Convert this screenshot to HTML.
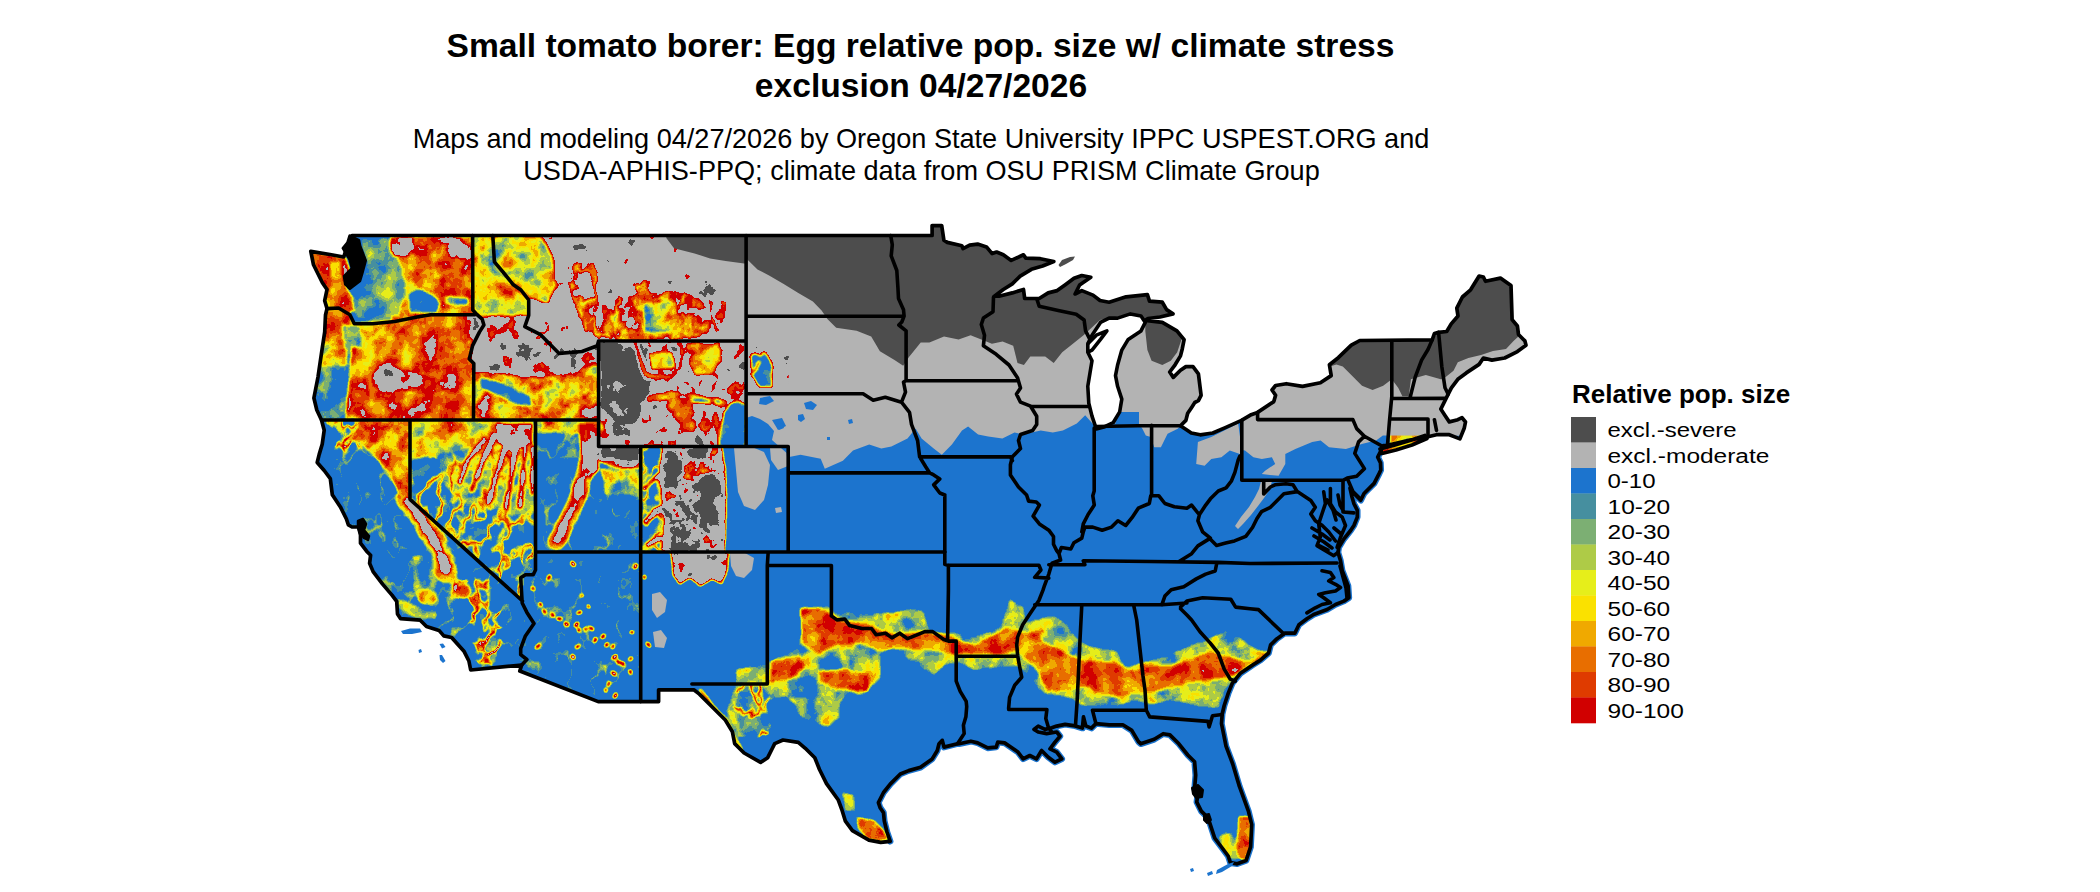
<!DOCTYPE html>
<html><head><meta charset="utf-8"><style>
html,body{margin:0;padding:0;background:#fff;}
body{width:2100px;height:892px;overflow:hidden;position:relative;font-family:"Liberation Sans",sans-serif;}
svg{position:absolute;left:0;top:0;}
.t1{font-weight:bold;font-size:33.6px;}
.t2{font-size:27.1px;}
.lh{font-weight:bold;font-size:26px;}
.lt{font-size:19.5px;}
</style></head><body>
<svg width="2100" height="892" viewBox="0 0 2100 892">
<text x="920.5" y="56.5" text-anchor="middle" class="t1">Small tomato borer: Egg relative pop. size w/ climate stress</text>
<text x="921" y="96.9" text-anchor="middle" class="t1">exclusion 04/27/2026</text>
<text x="921" y="147.5" text-anchor="middle" class="t2">Maps and modeling 04/27/2026 by Oregon State University IPPC USPEST.ORG and</text>
<text x="921.5" y="180" text-anchor="middle" class="t2">USDA-APHIS-PPQ; climate data from OSU PRISM Climate Group</text>
<defs><clipPath id="land"><path d="M310.8,251.4 L330.0,254.5 L343.7,257.0 L347.0,247.0 L350.0,240.0 L352.1,235.5 L932.1,235.5 L932.1,225.6 L941.7,225.6 L943.9,240.2 L947.3,242.4 L961.9,245.8 L963.0,248.6 L969.7,245.2 L977.6,244.1 L986.5,246.9 L992.1,253.6 L996.6,252.0 L1003.3,254.8 L1011.2,260.4 L1023.5,254.8 L1025.8,258.1 L1040.4,258.7 L1053.8,261.5 L1042.6,266.0 L1031.4,269.3 L1020.2,276.1 L1012.3,283.9 L1003.3,289.5 L994.4,296.2 L998.9,296.2 L1012.3,292.9 L1023.5,289.5 L1024.7,298.5 L1033.6,298.5 L1039.2,298.5 L1048.2,292.9 L1057.2,290.6 L1065.0,285.0 L1074.0,278.3 L1081.8,275.5 L1090.8,277.2 L1079.6,285.0 L1075.1,294.0 L1081.8,290.6 L1093.0,295.1 L1100.0,300.5 L1109.1,302.2 L1126.1,296.8 L1147.4,294.7 L1149.5,301.1 L1162.3,302.2 L1166.6,309.6 L1173.0,313.9 L1160.0,317.0 L1148.0,318.5 L1145.3,320.3 L1162.3,322.4 L1176.9,330.8 L1184.1,339.7 L1182.3,348.7 L1180.5,355.9 L1175.1,364.8 L1169.7,372.0 L1173.3,377.4 L1180.5,370.2 L1185.9,366.6 L1193.0,366.6 L1198.4,373.8 L1200.2,388.2 L1201.1,395.3 L1198.4,400.7 L1194.8,402.5 L1191.3,407.9 L1187.7,413.3 L1185.9,420.4 L1180.5,425.8 L1191.3,433.0 L1200.2,434.8 L1212.8,433.0 L1225.3,427.6 L1241.5,420.4 L1250.4,415.1 L1257.6,412.4 L1273.8,401.6 L1275.6,395.3 L1272.0,390.0 L1275.6,385.5 L1286.3,383.7 L1302.5,386.4 L1320.4,382.8 L1331.2,375.6 L1329.4,364.8 L1338.3,357.7 L1351.3,345.2 L1359.8,340.5 L1432.2,339.9 L1434.4,333.5 L1438.6,332.4 L1446.7,331.5 L1451.2,323.9 L1458.0,316.0 L1456.8,308.2 L1462.4,297.0 L1470.6,289.8 L1479.1,276.0 L1483.4,277.0 L1485.5,281.3 L1500.4,278.1 L1511.0,285.6 L1512.1,319.6 L1517.4,326.0 L1518.5,334.5 L1524.9,340.9 L1526.0,345.2 L1517.4,351.6 L1504.7,358.0 L1491.9,360.1 L1483.4,358.0 L1479.1,364.4 L1466.3,372.9 L1457.8,379.3 L1451.4,387.8 L1448.2,394.2 L1445.0,400.6 L1440.8,409.1 L1445.0,415.5 L1449.3,421.9 L1457.8,419.7 L1462.0,417.6 L1465.5,422.0 L1464.2,428.3 L1459.9,438.9 L1449.3,434.7 L1436.5,434.7 L1428.0,436.8 L1410.0,440.0 L1387.5,445.3 L1383.4,445.7 L1381.5,449.6 L1377.7,457.2 L1380.5,462.9 L1380.8,470.0 L1379.2,473.4 L1374.1,483.4 L1364.0,493.5 L1360.7,500.3 L1353.9,493.5 L1350.0,488.0 L1352.0,497.0 L1353.9,503.6 L1357.3,510.3 L1357.3,517.1 L1353.9,525.5 L1350.6,530.5 L1343.9,538.9 L1338.8,547.3 L1338.0,552.4 L1340.5,560.8 L1342.2,570.8 L1345.5,579.2 L1348.1,586.0 L1348.9,597.7 L1343.9,601.1 L1335.5,604.5 L1327.1,609.5 L1313.6,614.5 L1306.9,618.7 L1298.9,624.7 L1294.8,633.2 L1284.7,633.2 L1276.7,638.9 L1270.6,644.9 L1268.6,653.0 L1260.5,660.1 L1252.5,665.1 L1240.4,673.2 L1232.3,683.3 L1228.2,693.4 L1224.2,705.5 L1222.2,714.0 L1221.5,723.6 L1226.0,746.1 L1232.7,764.0 L1239.4,786.4 L1248.4,811.1 L1251.7,824.6 L1250.6,847.0 L1246.1,860.4 L1237.2,863.8 L1230.4,862.7 L1228.2,856.0 L1221.5,847.0 L1214.7,838.0 L1210.3,824.6 L1208.0,817.8 L1201.3,811.1 L1196.8,802.1 L1197.9,793.2 L1194.6,788.7 L1195.7,775.2 L1194.6,761.8 L1187.8,755.0 L1178.9,743.8 L1169.9,734.9 L1163.2,733.7 L1154.2,739.3 L1140.7,743.8 L1138.5,741.6 L1131.8,730.4 L1122.8,724.8 L1109.3,724.8 L1095.9,723.6 L1091.4,728.1 L1085.8,725.9 L1083.5,716.9 L1082.4,728.1 L1075.2,725.9 L1065.1,724.4 L1056.7,726.1 L1051.7,727.8 L1045.0,729.4 L1038.2,726.1 L1034.0,729.4 L1038.2,732.0 L1046.6,733.6 L1056.7,732.0 L1060.0,736.2 L1055.0,742.1 L1050.0,748.8 L1056.7,752.1 L1061.8,758.9 L1055.0,762.2 L1048.3,757.2 L1041.6,750.5 L1036.5,758.9 L1029.8,755.5 L1023.1,758.9 L1018.0,752.1 L1009.6,746.3 L1004.6,742.9 L997.8,742.1 L996.2,747.1 L987.7,747.9 L977.7,742.9 L970.9,741.2 L959.1,743.7 L957.5,743.7 L944.0,747.1 L942.3,740.4 L939.0,743.7 L937.3,750.5 L932.2,758.9 L920.5,767.3 L908.7,770.6 L900.3,774.0 L890.2,784.1 L883.5,792.5 L878.4,802.6 L880.1,807.7 L883.5,812.7 L884.3,821.1 L887.0,832.0 L890.2,841.3 L880.7,842.4 L868.9,840.1 L852.4,830.7 L845.4,821.2 L841.8,809.5 L838.3,800.0 L826.5,783.6 L819.5,769.5 L814.8,757.7 L805.3,748.3 L798.3,742.4 L783.0,740.0 L774.7,743.6 L772.4,748.3 L767.7,757.7 L760.6,762.4 L744.1,753.0 L734.7,743.6 L732.4,731.8 L725.3,720.0 L713.5,708.2 L699.4,694.1 L693.8,689.8 L658.6,689.8 L658.6,701.6 L598.2,701.6 L519.8,671.0 L521.7,665.0 L470.7,670.0 L468.9,661.0 L464.2,651.6 L451.6,637.5 L443.8,635.9 L439.0,630.4 L426.5,626.5 L420.2,620.2 L400.6,618.7 L397.5,614.0 L396.7,601.4 L392.0,595.1 L382.6,584.1 L373.1,571.6 L369.6,563.3 L370.6,555.3 L366.6,551.2 L360.5,543.2 L360.5,535.1 L358.5,527.0 L352.0,527.0 L348.4,525.0 L346.4,519.0 L340.4,506.9 L332.3,494.7 L330.3,478.6 L324.2,470.5 L317.2,462.5 L319.2,454.4 L322.2,444.3 L324.2,430.2 L321.5,420.0 L316.8,410.0 L313.9,398.0 L318.0,377.0 L321.3,354.5 L324.7,332.0 L325.5,315.0 L327.0,308.6 L324.7,300.7 L327.0,289.5 L322.4,282.8 L313.5,264.8Z M1380.0,449.0 L1395.0,445.0 L1410.0,440.5 L1425.0,435.5 L1427.0,438.5 L1412.0,445.0 L1396.0,450.0 L1382.0,453.5Z"/></clipPath><filter id="heat" filterUnits="userSpaceOnUse" x="295" y="215" width="1250" height="680" color-interpolation-filters="sRGB"><feGaussianBlur in="SourceGraphic" stdDeviation="1.6" result="bl"/><feColorMatrix in="bl" type="matrix" values="0 1 0 0 0 0 1 0 0 0 0 1 0 0 0 0 0 0 0 1" result="amp"/><feColorMatrix in="bl" type="matrix" values="0 0 1 0 0 0 0 1 0 0 0 0 1 0 0 0 0 0 0 1" result="sa"/><feColorMatrix in="bl" type="matrix" values="1 0 0 0 0 1 0 0 0 0 1 0 0 0 0 0 0 0 0 1" result="base"/><feColorMatrix in="bl" type="matrix" values="-0.5775 0 0 0 0.85 -0.5775 0 0 0 0.85 -0.5775 0 0 0 0.85 0 0 0 0 1" result="dd"/><feTurbulence type="fractalNoise" baseFrequency="0.05" numOctaves="4" seed="4" result="n0"/><feColorMatrix in="n0" type="matrix" values="1 0 0 0 0 1 0 0 0 0 1 0 0 0 0 0 0 0 0 1" result="n"/><feTurbulence type="fractalNoise" baseFrequency="0.042 0.031" numOctaves="3" seed="9" result="m0"/><feColorMatrix in="m0" type="matrix" values="1 0 0 0 0 1 0 0 0 0 1 0 0 0 0 0 0 0 0 1" result="m1"/><feComponentTransfer in="m1" result="pk"><feFuncR type="table" tableValues="0 0 0 0 0 0 0 0 0 0.5 1 0.5 0 0 0 0 0 0 0 0 0"/><feFuncG type="table" tableValues="0 0 0 0 0 0 0 0 0 0.5 1 0.5 0 0 0 0 0 0 0 0 0"/><feFuncB type="table" tableValues="0 0 0 0 0 0 0 0 0 0.5 1 0.5 0 0 0 0 0 0 0 0 0"/></feComponentTransfer><feComposite in="sa" in2="pk" operator="arithmetic" k1="1" k2="0" k3="0" k4="0" result="mm"/><feComposite in="mm" in2="dd" operator="arithmetic" k1="2.0" k2="-1.0" k3="0" k4="0.5" result="xx"/><feComposite in="amp" in2="n" operator="arithmetic" k1="1.0" k2="-0.5" k3="0" k4="0.5" result="an"/><feComposite in="base" in2="an" operator="arithmetic" k1="0" k2="1" k3="1" k4="-0.5" result="s1"/><feComposite in="s1" in2="xx" operator="arithmetic" k1="0" k2="1" k3="1" k4="-0.5" result="s"/><feComponentTransfer in="s"><feFuncR type="discrete" tableValues="0.110 0.110 0.110 0.110 0.110 0.110 0.110 0.110 0.110 0.110 0.110 0.110 0.110 0.110 0.110 0.110 0.110 0.110 0.110 0.110 0.110 0.110 0.110 0.110 0.110 0.110 0.110 0.110 0.110 0.110 0.110 0.110 0.110 0.110 0.110 0.275 0.275 0.275 0.275 0.486 0.486 0.486 0.486 0.682 0.682 0.682 0.682 0.902 0.902 0.902 0.902 0.980 0.980 0.980 0.980 0.941 0.941 0.941 0.941 0.910 0.910 0.910 0.910 0.875 0.875 0.875 0.875 0.820 0.820 0.820 0.820 0.820 0.702 0.702 0.702 0.702 0.702 0.702 0.702 0.702 0.702 0.702 0.702 0.702 0.702 0.702 0.702 0.702 0.302 0.302 0.302 0.302 0.302 0.302 0.302 0.302 0.302 0.302 0.302 0.302"/><feFuncG type="discrete" tableValues="0.455 0.455 0.455 0.455 0.455 0.455 0.455 0.455 0.455 0.455 0.455 0.455 0.455 0.455 0.455 0.455 0.455 0.455 0.455 0.455 0.455 0.455 0.455 0.455 0.455 0.455 0.455 0.455 0.455 0.455 0.455 0.455 0.455 0.455 0.455 0.561 0.561 0.561 0.561 0.686 0.686 0.686 0.686 0.796 0.796 0.796 0.796 0.933 0.933 0.933 0.933 0.882 0.882 0.882 0.882 0.663 0.663 0.663 0.663 0.431 0.431 0.431 0.431 0.231 0.231 0.231 0.231 0.000 0.000 0.000 0.000 0.000 0.702 0.702 0.702 0.702 0.702 0.702 0.702 0.702 0.702 0.702 0.702 0.702 0.702 0.702 0.702 0.702 0.302 0.302 0.302 0.302 0.302 0.302 0.302 0.302 0.302 0.302 0.302 0.302"/><feFuncB type="discrete" tableValues="0.808 0.808 0.808 0.808 0.808 0.808 0.808 0.808 0.808 0.808 0.808 0.808 0.808 0.808 0.808 0.808 0.808 0.808 0.808 0.808 0.808 0.808 0.808 0.808 0.808 0.808 0.808 0.808 0.808 0.808 0.808 0.808 0.808 0.808 0.808 0.624 0.624 0.624 0.624 0.451 0.451 0.451 0.451 0.278 0.278 0.278 0.278 0.102 0.102 0.102 0.102 0.000 0.000 0.000 0.000 0.000 0.000 0.000 0.000 0.000 0.000 0.000 0.000 0.000 0.000 0.000 0.000 0.000 0.000 0.000 0.000 0.000 0.702 0.702 0.702 0.702 0.702 0.702 0.702 0.702 0.702 0.702 0.702 0.702 0.702 0.702 0.702 0.702 0.302 0.302 0.302 0.302 0.302 0.302 0.302 0.302 0.302 0.302 0.302 0.302"/><feFuncA type="discrete" tableValues="1"/></feComponentTransfer></filter></defs><path d="M1381.5,449.6 L1377.7,457.2 L1380.5,462.9 L1380.8,470.0 L1379.2,473.4 L1374.1,483.4 L1364.0,493.5 L1360.7,500.3 L1353.9,493.5 L1350.0,488.0 L1352.0,497.0 L1353.9,503.6 L1357.3,510.3 L1357.3,517.1 L1353.9,525.5 L1350.6,530.5 L1343.9,538.9 L1338.8,547.3 L1338.0,552.4 L1340.5,560.8 L1342.2,570.8 L1345.5,579.2 L1348.1,586.0 L1348.9,597.7 L1343.9,601.1 L1335.5,604.5 L1327.1,609.5 L1313.6,614.5 L1306.9,618.7 L1298.9,624.7 L1294.8,633.2 L1284.7,633.2 L1276.7,638.9 L1270.6,644.9 L1268.6,653.0 L1260.5,660.1 L1252.5,665.1 L1240.4,673.2 L1232.3,683.3 L1228.2,693.4 L1224.2,705.5 L1222.2,714.0 L1221.5,723.6 L1226.0,746.1 L1232.7,764.0 L1239.4,786.4 L1248.4,811.1 L1251.7,824.6 L1250.6,847.0 L1246.1,860.4 L1237.2,863.8 L1230.4,862.7 L1228.2,856.0 L1221.5,847.0 L1214.7,838.0 L1210.3,824.6 L1208.0,817.8 L1201.3,811.1 L1196.8,802.1 L1197.9,793.2 L1194.6,788.7 L1195.7,775.2 L1194.6,761.8 L1187.8,755.0 L1178.9,743.8 L1169.9,734.9 L1163.2,733.7 L1154.2,739.3 L1140.7,743.8 L1138.5,741.6 L1131.8,730.4 L1122.8,724.8 L1109.3,724.8 L1095.9,723.6 L1091.4,728.1 L1085.8,725.9 L1083.5,716.9 L1082.4,728.1 L1075.2,725.9 L1065.1,724.4 L1056.7,726.1 L1051.7,727.8 L1045.0,729.4 L1038.2,726.1 L1034.0,729.4 L1038.2,732.0 L1046.6,733.6 L1056.7,732.0 L1060.0,736.2 L1055.0,742.1 L1050.0,748.8 L1056.7,752.1 L1061.8,758.9 L1055.0,762.2 L1048.3,757.2 L1041.6,750.5 L1036.5,758.9 L1029.8,755.5 L1023.1,758.9 L1018.0,752.1 L1009.6,746.3 L1004.6,742.9 L997.8,742.1 L996.2,747.1 L987.7,747.9 L977.7,742.9 L970.9,741.2 L959.1,743.7 L957.5,743.7 L944.0,747.1 L942.3,740.4 L939.0,743.7 L937.3,750.5 L932.2,758.9 L920.5,767.3 L908.7,770.6 L900.3,774.0 L890.2,784.1 L883.5,792.5 L878.4,802.6 L880.1,807.7 L883.5,812.7 L884.3,821.1 L887.0,832.0 L890.2,841.3" fill="none" stroke="#1c74ce" stroke-width="6.5" stroke-linejoin="round" stroke-linecap="round"/><g clip-path="url(#land)"><g filter="url(#heat)"><path d="M300.0,220.0 L1540.0,220.0 L1540.0,890.0 L300.0,890.0Z" fill="rgb(51,64,0)"/><path d="M490.0,225.0 L805.0,225.0 L805.0,446.5 L598.6,446.5 L598.6,365.0 L490.0,365.0Z" fill="rgb(204,76,0)"/><path d="M392.0,236.0 L472.6,236.0 L472.6,316.0 L392.0,316.0Z" fill="rgb(159,115,0)"/><path d="M308.0,250.0 L346.0,257.0 L350.0,270.0 L346.0,286.0 L356.0,300.0 L356.0,312.0 L327.0,309.0 L322.0,283.0 L313.0,265.0Z" fill="rgb(164,89,0)"/><path d="M330.0,262.0 L341.0,262.0 L342.0,278.0 L331.0,280.0Z" fill="rgb(120,102,0)"/><path d="M360.0,238.0 L388.0,238.0 L398.0,258.0 L404.0,278.0 L406.0,292.0 L402.0,305.0 L398.0,316.0 L372.0,322.0 L356.0,318.0 L352.0,300.0 L362.0,285.0 L366.0,262.0Z" fill="rgb(98,89,0)"/><path d="M390.0,237.0 L412.0,237.0 L414.0,248.0 L408.0,256.0 L394.0,256.0 L390.0,248.0Z" fill="rgb(189,128,0)"/><path d="M432.0,237.0 L472.0,237.0 L472.0,256.0 L455.0,259.0 L432.0,251.0Z" fill="rgb(184,128,0)"/><path d="M410.0,294.0 L420.0,290.0 L432.0,295.0 L440.0,303.0 L436.0,313.0 L410.0,313.0Z" fill="rgb(71,102,0)"/><path d="M445.0,296.0 L468.0,298.0 L468.0,305.0 L445.0,304.0Z" fill="rgb(92,102,0)"/><path d="M312.0,308.0 L338.0,308.0 L352.0,316.0 L354.0,326.0 L350.0,345.0 L347.0,370.0 L345.0,395.0 L343.0,422.0 L312.0,422.0Z" fill="rgb(82,140,0)"/><path d="M352.0,322.0 L392.0,320.0 L392.0,420.0 L345.0,420.0 L347.0,395.0 L349.0,370.0 L352.0,345.0Z" fill="rgb(148,128,0)"/><path d="M320.0,306.0 L350.0,310.0 L352.0,325.0 L345.0,345.0 L322.0,347.0Z" fill="rgb(158,102,0)"/><path d="M320.0,345.0 L345.0,345.0 L348.0,366.0 L320.0,366.0Z" fill="rgb(133,115,0)"/><path d="M342.0,325.0 L360.0,326.0 L362.0,347.0 L344.0,347.0Z" fill="rgb(84,102,0)"/><path d="M392.0,316.0 L474.0,316.0 L474.0,368.0 L392.0,368.0Z" fill="rgb(157,115,0)"/><path d="M360.0,366.0 L474.0,366.0 L474.0,420.0 L345.0,420.0 L350.0,380.0Z" fill="rgb(163,115,0)"/><path d="M372.0,373.0 L385.0,369.0 L405.0,370.0 L420.0,374.0 L436.0,378.0 L436.0,392.0 L420.0,394.0 L400.0,389.0 L382.0,392.0 L372.0,387.0Z" fill="rgb(191,102,0)"/><path d="M318.0,420.0 L410.0,420.0 L410.0,499.0 L522.0,601.0 L521.0,665.0 L470.0,670.0 L400.0,620.0 L350.0,527.0 L318.0,440.0Z" fill="rgb(56,76,89)"/><path d="M318.0,420.0 L362.0,420.0 L366.0,447.0 L345.0,452.0 L330.0,445.0 L318.0,440.0Z" fill="rgb(64,76,255)"/><path d="M360.0,420.0 L410.0,420.0 L410.0,499.0 L403.0,501.0 L395.0,485.0 L385.0,470.0 L372.0,455.0 L362.0,445.0 L350.0,440.0Z" fill="rgb(153,140,76)"/><path d="M406.0,500.0 L413.0,507.0 L426.0,527.0 L437.0,545.0 L444.0,563.0 L447.0,572.0" fill="none" stroke="rgb(143,128,128)" stroke-width="22" stroke-linecap="round" stroke-linejoin="round"/><path d="M408.0,502.0 L413.0,508.0 L426.0,527.0 L437.0,545.0 L444.0,562.0 L446.0,570.0" fill="none" stroke="rgb(204,102,0)" stroke-width="10" stroke-linecap="round" stroke-linejoin="round"/><path d="M413.0,556.0 L425.0,554.0 L436.0,566.0 L438.0,590.0 L434.0,604.0 L418.0,604.0 L413.0,585.0Z" fill="rgb(107,140,0)"/><path d="M418.0,566.0 L428.0,566.0 L430.0,586.0 L420.0,588.0Z" fill="rgb(76,102,0)"/><path d="M420.0,592.0 L428.0,589.0 L436.0,593.0 L438.0,600.0 L432.0,606.0 L424.0,606.0 L418.0,600.0Z" fill="rgb(158,102,0)"/><path d="M453.0,580.0 L489.0,580.0 L489.0,612.0 L453.0,612.0Z" fill="rgb(76,153,255)"/><path d="M457.0,587.0 L463.0,583.0 L470.0,586.0 L471.0,594.0 L465.0,599.0 L458.0,596.0Z" fill="rgb(158,102,0)"/><path d="M471.0,612.0 L500.0,612.0 L502.0,640.0 L496.0,664.0 L478.0,662.0 L470.0,630.0Z" fill="rgb(76,153,255)"/><path d="M398.0,598.0 L420.0,606.0 L437.0,612.0 L436.0,620.0 L415.0,618.0 L397.0,610.0Z" fill="rgb(128,128,0)"/><path d="M410.0,420.0 L535.5,420.0 L535.5,570.0 L522.0,601.0 L410.0,499.0Z" fill="rgb(76,76,230)"/><path d="M410.0,420.0 L500.0,420.0 L500.0,446.0 L470.0,449.0 L440.0,454.0 L410.0,460.0Z" fill="rgb(133,128,76)"/><path d="M440.0,455.0 L470.0,450.0 L497.0,446.0 L535.5,446.0 L535.5,515.0 L500.0,515.0 L460.0,500.0 L440.0,480.0Z" fill="rgb(102,140,178)"/><path d="M497.0,423.0 L533.0,423.0 L533.0,444.0 L512.0,452.0 L497.0,442.0Z" fill="rgb(199,102,0)"/><path d="M507.0,440.0 L498.0,470.0 L489.0,502.0" fill="none" stroke="rgb(196,102,0)" stroke-width="6" stroke-linecap="round" stroke-linejoin="round"/><path d="M516.0,446.0 L511.0,480.0 L506.0,508.0" fill="none" stroke="rgb(196,102,0)" stroke-width="6" stroke-linecap="round" stroke-linejoin="round"/><path d="M526.0,442.0 L523.0,476.0 L520.0,506.0" fill="none" stroke="rgb(196,102,0)" stroke-width="6" stroke-linecap="round" stroke-linejoin="round"/><path d="M494.0,436.0 L482.0,463.0 L472.0,490.0" fill="none" stroke="rgb(196,102,0)" stroke-width="6" stroke-linecap="round" stroke-linejoin="round"/><path d="M484.0,440.0 L468.0,460.0 L460.0,482.0" fill="none" stroke="rgb(196,102,0)" stroke-width="6" stroke-linecap="round" stroke-linejoin="round"/><path d="M533.0,448.0 L533.0,492.0" fill="none" stroke="rgb(196,102,0)" stroke-width="6" stroke-linecap="round" stroke-linejoin="round"/><path d="M472.6,236.0 L492.8,236.0 L494.4,262.0 L513.0,285.0 L528.7,300.0 L528.7,316.0 L472.6,316.0Z" fill="rgb(128,128,0)"/><path d="M472.0,316.0 L528.7,315.3 L524.8,326.7 L540.1,334.3 L551.5,345.8 L559.1,353.4 L582.0,351.5 L598.6,345.0 L598.6,366.0 L570.0,372.0 L545.0,378.0 L520.0,377.0 L495.0,373.0 L472.0,372.0Z" fill="rgb(204,128,0)"/><path d="M472.0,372.0 L495.0,373.0 L520.0,377.0 L545.0,378.0 L570.0,372.0 L598.6,365.0 L598.6,421.0 L472.0,421.0Z" fill="rgb(150,153,0)"/><path d="M480.0,378.0 L498.0,382.0 L515.0,390.0 L530.0,397.0 L532.0,406.0 L518.0,405.0 L500.0,396.0 L482.0,388.0Z" fill="rgb(76,115,0)"/><path d="M492.8,236.0 L568.0,236.0 L568.0,340.0 L540.0,334.0 L525.0,327.0 L529.0,315.0 L529.0,300.0 L513.0,285.0 L494.0,262.0Z" fill="rgb(204,76,51)"/><path d="M493.0,236.0 L540.0,236.0 L552.0,255.0 L556.0,285.0 L548.0,303.0 L530.0,298.0 L513.0,285.0 L494.0,262.0Z" fill="rgb(120,128,0)"/><path d="M526.0,318.0 L548.0,322.0 L556.0,345.0 L552.0,356.0 L540.0,340.0 L528.0,330.0Z" fill="rgb(196,76,230)"/><path d="M568.0,265.0 L592.0,262.0 L602.0,275.0 L612.0,300.0 L617.0,336.0 L600.0,342.0 L585.0,330.0 L572.0,300.0Z" fill="rgb(196,76,255)"/><path d="M625.0,272.0 L640.0,270.0 L653.0,285.0 L650.0,296.0 L635.0,291.0Z" fill="rgb(194,76,255)"/><path d="M604.0,298.0 L640.0,293.0 L670.0,291.0 L700.0,296.0 L726.0,303.0 L722.0,330.0 L690.0,338.0 L650.0,341.0 L620.0,341.0 L604.0,336.0Z" fill="rgb(178,140,255)"/><path d="M643.0,303.0 L675.0,302.0 L680.0,318.0 L672.0,333.0 L645.0,332.0Z" fill="rgb(122,153,0)"/><path d="M598.6,341.0 L746.0,341.0 L746.0,446.5 L598.6,446.5Z" fill="rgb(204,89,89)"/><path d="M600.0,343.0 L640.0,343.0 L655.0,352.0 L658.0,372.0 L648.0,390.0 L643.0,405.0 L638.0,421.0 L617.0,424.0 L601.0,405.0Z" fill="rgb(235,115,0)"/><path d="M667.0,345.0 L675.0,345.0 L686.0,356.0 L684.0,366.0 L676.0,360.0Z" fill="rgb(235,102,0)"/><path d="M648.0,352.0 L672.0,352.0 L676.0,368.0 L652.0,370.0Z" fill="rgb(133,128,0)"/><path d="M636.0,345.0 L641.0,362.0 L645.0,374.0 L655.0,377.0 L670.0,377.0 L680.0,368.0 L683.0,352.0 L680.0,344.0" fill="none" stroke="rgb(163,76,0)" stroke-width="5" stroke-linecap="round" stroke-linejoin="round"/><path d="M686.0,343.0 L718.0,343.0 L722.0,360.0 L712.0,374.0 L695.0,376.0 L688.0,362.0Z" fill="rgb(143,128,0)"/><path d="M650.0,398.0 L670.0,395.0 L690.0,398.0 L705.0,400.0 L722.0,404.0" fill="none" stroke="rgb(140,102,0)" stroke-width="8" stroke-linecap="round" stroke-linejoin="round"/><path d="M695.0,400.0 L720.0,402.0" fill="none" stroke="rgb(64,76,0)" stroke-width="3" stroke-linecap="round" stroke-linejoin="round"/><path d="M668.0,395.0 L690.0,395.0 L696.0,415.0 L694.0,433.0 L680.0,432.0 L670.0,415.0Z" fill="rgb(168,102,0)"/><path d="M712.0,400.0 L716.0,415.0 L718.0,430.0 L722.0,444.0" fill="none" stroke="rgb(168,76,0)" stroke-width="5" stroke-linecap="round" stroke-linejoin="round"/><path d="M724.0,412.0 L730.0,404.0 L738.0,401.0 L746.0,404.0 L746.0,446.5 L719.0,446.5 L721.0,430.0Z" fill="rgb(69,102,0)"/><path d="M695.0,434.0 L702.0,434.0 L702.0,442.0 L695.0,442.0Z" fill="rgb(235,102,0)"/><path d="M751.0,352.0 L765.0,352.0 L772.0,365.0 L772.0,387.0 L760.0,387.0 L752.0,375.0Z" fill="rgb(71,102,0)"/><path d="M748.0,356.0 L754.0,351.0 L761.0,354.0" fill="none" stroke="rgb(178,76,0)" stroke-width="4" stroke-linecap="round" stroke-linejoin="round"/><path d="M751.0,374.0 L756.0,369.0 L759.0,362.0" fill="none" stroke="rgb(168,76,0)" stroke-width="3.5" stroke-linecap="round" stroke-linejoin="round"/><path d="M748.0,415.0 L770.0,418.0 L787.0,430.0 L787.0,446.0 L754.0,446.0Z" fill="rgb(89,178,0)"/><path d="M535.5,420.0 L598.6,420.0 L598.6,446.5 L640.7,446.5 L640.7,552.0 L535.5,552.0Z" fill="rgb(56,76,76)"/><path d="M535.5,419.0 L598.6,419.0 L598.6,434.0 L535.5,434.0Z" fill="rgb(128,153,0)"/><path d="M595.0,428.0 L588.0,460.0 L580.0,490.0 L570.0,515.0 L556.0,542.0" fill="none" stroke="rgb(153,102,0)" stroke-width="18" stroke-linecap="round" stroke-linejoin="round"/><path d="M578.0,423.0 L598.6,423.0 L598.6,470.0 L590.0,480.0 L582.0,470.0 L580.0,445.0Z" fill="rgb(194,102,0)"/><path d="M594.0,430.0 L587.0,460.0 L579.0,490.0 L569.0,515.0 L557.0,540.0" fill="none" stroke="rgb(196,89,0)" stroke-width="8" stroke-linecap="round" stroke-linejoin="round"/><path d="M598.0,430.0 L640.7,430.0 L640.7,468.0 L620.0,470.0 L600.0,462.0 L594.0,450.0Z" fill="rgb(199,128,0)"/><path d="M600.0,468.0 L640.7,468.0 L640.7,498.0 L605.0,495.0Z" fill="rgb(115,178,0)"/><path d="M602.0,447.0 L640.7,447.0 L640.7,460.0 L602.0,460.0Z" fill="rgb(235,76,0)"/><path d="M657.0,446.5 L722.0,446.5 L726.0,470.0 L727.0,500.0 L725.0,552.0 L657.0,552.0Z" fill="rgb(209,153,0)"/><path d="M672.0,450.0 L716.0,450.0 L716.0,549.0 L672.0,549.0Z" fill="rgb(219,242,0)"/><path d="M640.7,446.5 L662.0,446.5 L658.0,480.0 L664.0,520.0 L660.0,552.0 L640.7,552.0Z" fill="rgb(82,128,230)"/><path d="M668.0,470.0 L655.0,478.0 L645.0,488.0" fill="none" stroke="rgb(204,102,0)" stroke-width="6" stroke-linecap="round" stroke-linejoin="round"/><path d="M668.0,505.0 L655.0,512.0 L646.0,522.0" fill="none" stroke="rgb(204,102,0)" stroke-width="7" stroke-linecap="round" stroke-linejoin="round"/><path d="M670.0,535.0 L656.0,540.0 L648.0,545.0" fill="none" stroke="rgb(204,102,0)" stroke-width="6" stroke-linecap="round" stroke-linejoin="round"/><path d="M671.0,552.0 L730.0,552.0 L728.0,570.0 L722.0,585.0 L712.0,580.0 L700.0,587.0 L690.0,578.0 L680.0,585.0 L672.0,575.0Z" fill="rgb(201,115,0)"/><path d="M522.0,560.0 L640.7,552.0 L640.7,702.0 L598.0,702.0 L520.0,671.0Z" fill="rgb(56,76,76)"/><path d="M540.2,603.8 L540.8,605.0" fill="none" stroke="rgb(219,76,0)" stroke-width="3.8" stroke-linecap="round" stroke-linejoin="round"/><path d="M543.6,610.5 L545.1,612.7" fill="none" stroke="rgb(219,76,0)" stroke-width="3.8" stroke-linecap="round" stroke-linejoin="round"/><path d="M552.0,613.9 L553.2,616.0" fill="none" stroke="rgb(219,76,0)" stroke-width="3.8" stroke-linecap="round" stroke-linejoin="round"/><path d="M560.4,619.0 L558.0,618.8" fill="none" stroke="rgb(219,76,0)" stroke-width="3.8" stroke-linecap="round" stroke-linejoin="round"/><path d="M565.5,624.0 L567.7,624.7" fill="none" stroke="rgb(219,76,0)" stroke-width="3.8" stroke-linecap="round" stroke-linejoin="round"/><path d="M575.6,625.6 L577.6,623.7" fill="none" stroke="rgb(219,76,0)" stroke-width="3.8" stroke-linecap="round" stroke-linejoin="round"/><path d="M579.0,630.7 L578.8,629.4" fill="none" stroke="rgb(219,76,0)" stroke-width="3.8" stroke-linecap="round" stroke-linejoin="round"/><path d="M585.6,629.0 L585.8,629.4" fill="none" stroke="rgb(219,76,0)" stroke-width="3.8" stroke-linecap="round" stroke-linejoin="round"/><path d="M592.4,629.0 L590.0,627.6" fill="none" stroke="rgb(219,76,0)" stroke-width="3.8" stroke-linecap="round" stroke-linejoin="round"/><path d="M595.7,639.1 L594.6,641.2" fill="none" stroke="rgb(219,76,0)" stroke-width="3.8" stroke-linecap="round" stroke-linejoin="round"/><path d="M602.5,637.4 L603.8,635.7" fill="none" stroke="rgb(219,76,0)" stroke-width="3.8" stroke-linecap="round" stroke-linejoin="round"/><path d="M605.8,645.8 L607.3,644.0" fill="none" stroke="rgb(219,76,0)" stroke-width="3.8" stroke-linecap="round" stroke-linejoin="round"/><path d="M612.6,647.5 L613.2,645.6" fill="none" stroke="rgb(219,76,0)" stroke-width="3.8" stroke-linecap="round" stroke-linejoin="round"/><path d="M616.0,655.9 L613.5,657.8" fill="none" stroke="rgb(219,76,0)" stroke-width="3.8" stroke-linecap="round" stroke-linejoin="round"/><path d="M619.3,662.7 L617.8,661.3" fill="none" stroke="rgb(219,76,0)" stroke-width="3.8" stroke-linecap="round" stroke-linejoin="round"/><path d="M612.6,672.7 L615.0,674.6" fill="none" stroke="rgb(219,76,0)" stroke-width="3.8" stroke-linecap="round" stroke-linejoin="round"/><path d="M609.2,682.8 L608.1,685.1" fill="none" stroke="rgb(219,76,0)" stroke-width="3.8" stroke-linecap="round" stroke-linejoin="round"/><path d="M605.8,689.6 L606.0,690.5" fill="none" stroke="rgb(219,76,0)" stroke-width="3.8" stroke-linecap="round" stroke-linejoin="round"/><path d="M616.0,694.6 L614.5,696.8" fill="none" stroke="rgb(219,76,0)" stroke-width="3.8" stroke-linecap="round" stroke-linejoin="round"/><path d="M622.7,662.7 L623.7,665.0" fill="none" stroke="rgb(219,76,0)" stroke-width="3.8" stroke-linecap="round" stroke-linejoin="round"/><path d="M629.4,659.3 L631.4,658.3" fill="none" stroke="rgb(219,76,0)" stroke-width="3.8" stroke-linecap="round" stroke-linejoin="round"/><path d="M631.0,672.7 L630.3,671.0" fill="none" stroke="rgb(219,76,0)" stroke-width="3.8" stroke-linecap="round" stroke-linejoin="round"/><path d="M573.9,565.0 L572.1,562.8" fill="none" stroke="rgb(219,76,0)" stroke-width="3.8" stroke-linecap="round" stroke-linejoin="round"/><path d="M582.3,595.4 L581.3,595.9" fill="none" stroke="rgb(219,76,0)" stroke-width="3.8" stroke-linecap="round" stroke-linejoin="round"/><path d="M580.6,612.2 L578.1,613.1" fill="none" stroke="rgb(219,76,0)" stroke-width="3.8" stroke-linecap="round" stroke-linejoin="round"/><path d="M589.0,607.1 L588.2,606.1" fill="none" stroke="rgb(219,76,0)" stroke-width="3.8" stroke-linecap="round" stroke-linejoin="round"/><path d="M631.0,632.4 L632.6,632.3" fill="none" stroke="rgb(219,76,0)" stroke-width="3.8" stroke-linecap="round" stroke-linejoin="round"/><path d="M533.5,588.6 L532.6,588.5" fill="none" stroke="rgb(219,76,0)" stroke-width="3.8" stroke-linecap="round" stroke-linejoin="round"/><path d="M548.6,578.5 L549.6,576.3" fill="none" stroke="rgb(219,76,0)" stroke-width="3.8" stroke-linecap="round" stroke-linejoin="round"/><path d="M536.9,647.5 L539.3,645.1" fill="none" stroke="rgb(219,76,0)" stroke-width="3.8" stroke-linecap="round" stroke-linejoin="round"/><path d="M572.2,656.0 L573.4,657.7" fill="none" stroke="rgb(219,76,0)" stroke-width="3.8" stroke-linecap="round" stroke-linejoin="round"/><path d="M578.9,645.8 L576.5,647.2" fill="none" stroke="rgb(219,76,0)" stroke-width="3.8" stroke-linecap="round" stroke-linejoin="round"/><path d="M644.5,576.9 L643.8,577.3" fill="none" stroke="rgb(219,76,0)" stroke-width="3.8" stroke-linecap="round" stroke-linejoin="round"/><path d="M649.6,645.8 L647.1,643.5" fill="none" stroke="rgb(219,76,0)" stroke-width="3.8" stroke-linecap="round" stroke-linejoin="round"/><path d="M636.1,565.1 L634.5,567.4" fill="none" stroke="rgb(219,76,0)" stroke-width="3.8" stroke-linecap="round" stroke-linejoin="round"/><path d="M736.0,668.8 L753.2,666.7 L770.3,660.3 L785.2,653.9 L795.8,647.5 L802.2,632.6 L800.1,608.1 L810.7,607.0 L827.8,606.0 L836.3,613.4 L849.1,611.3 L870.4,613.4 L891.7,613.4 L912.9,607.0 L923.6,611.3 L930.0,630.5 L944.9,632.6 L960.0,632.6 L966.8,637.1 L983.6,633.7 L1000.5,625.3 L1008.9,598.4 L1024.0,606.8 L1025.7,622.0 L1042.5,616.9 L1054.3,615.2 L1067.7,623.6 L1076.2,637.1 L1087.9,645.5 L1101.4,647.2 L1116.5,650.6 L1126.6,665.7 L1151.8,660.6 L1168.7,653.9 L1185.5,647.2 L1202.3,640.5 L1219.1,633.7 L1229.2,627.0 L1244.4,640.5 L1260.0,650.6 L1275.0,652.0 L1275.0,662.0 L1260.0,660.6 L1252.8,665.7 L1236.0,677.5 L1225.9,690.9 L1219.1,707.7 L1202.3,707.7 L1185.5,704.4 L1168.7,701.0 L1151.8,704.4 L1135.0,701.0 L1118.2,706.1 L1101.4,707.7 L1084.6,706.1 L1067.7,697.7 L1044.2,694.3 L1030.7,680.8 L1017.3,665.7 L992.1,669.1 L975.2,670.7 L960.0,664.0 L944.9,664.5 L934.2,675.2 L925.7,670.9 L912.9,664.5 L904.4,656.0 L891.7,649.6 L881.0,653.9 L881.0,679.4 L870.4,688.0 L859.7,696.5 L849.1,692.2 L840.5,702.9 L840.5,717.8 L827.8,726.3 L810.7,724.2 L798.0,715.6 L793.7,702.9 L785.2,696.5 L770.3,700.7 L763.9,709.3 L772.4,726.3 L763.9,734.8 L746.8,739.1 L738.3,736.9 L731.9,726.3 L726.0,712.0 L732.0,690.0 L736.0,680.0Z" fill="rgb(112,128,0)"/><path d="M800.0,609.0 L820.0,608.0 L838.0,618.0 L870.0,626.0 L892.0,634.0 L930.0,632.0 L950.0,637.0 L975.0,645.0 L1000.0,631.0 L1005.0,627.0 L1020.0,632.0 L1037.0,632.0 L1044.0,642.0 L1068.0,654.0 L1085.0,661.0 L1101.0,661.0 L1118.0,664.0 L1135.0,671.0 L1152.0,667.0 L1177.0,664.0 L1194.0,657.0 L1211.0,651.0 L1228.0,657.0 L1244.0,661.0 L1260.0,657.0 L1268.0,654.0 L1262.0,664.0 L1250.0,666.0 L1236.0,674.0 L1219.0,679.0 L1202.0,681.0 L1185.0,684.0 L1169.0,688.0 L1152.0,693.0 L1135.0,694.0 L1118.0,698.0 L1101.0,694.0 L1085.0,686.0 L1068.0,691.0 L1048.0,691.0 L1037.0,671.0 L1017.0,652.0 L1000.0,654.0 L950.0,654.0 L930.0,650.0 L892.0,649.0 L881.0,652.0 L860.0,643.0 L838.0,645.0 L819.0,654.0 L802.0,645.0Z" fill="rgb(157,82,0)"/><path d="M819.0,658.0 L840.0,658.0 L840.0,672.0 L819.0,672.0Z" fill="rgb(76,128,0)"/><path d="M788.0,678.0 L815.0,678.0 L815.0,698.0 L788.0,698.0Z" fill="rgb(76,128,0)"/><path d="M819.0,671.0 L845.0,668.0 L870.0,675.0 L868.0,692.0 L850.0,690.0 L830.0,688.0 L819.0,680.0Z" fill="rgb(159,97,0)"/><path d="M770.0,662.0 L800.0,655.0 L805.0,668.0 L790.0,680.0 L772.0,682.0Z" fill="rgb(159,97,0)"/><path d="M736.0,683.0 L762.0,684.0 L772.0,700.0 L768.0,735.0 L745.0,740.0 L734.0,710.0Z" fill="rgb(89,102,255)"/><path d="M700.0,690.0 L713.0,707.0 L726.0,720.0 L733.0,735.0 L742.0,750.0" fill="none" stroke="rgb(158,76,0)" stroke-width="4" stroke-linecap="round" stroke-linejoin="round"/><path d="M841.0,791.0 L855.0,795.0 L856.0,812.0 L845.0,812.0Z" fill="rgb(115,128,0)"/><path d="M856.0,816.0 L875.0,820.0 L890.0,838.0 L882.0,843.0 L868.0,840.0 L858.0,830.0Z" fill="rgb(153,128,0)"/><path d="M1216.0,836.0 L1232.0,832.0 L1240.0,850.0 L1236.0,862.0 L1224.0,856.0Z" fill="rgb(102,128,0)"/><path d="M1238.0,816.0 L1252.0,816.0 L1252.0,852.0 L1246.0,862.0 L1238.0,858.0 L1236.0,840.0Z" fill="rgb(156,115,0)"/><path d="M1379.0,449.0 L1400.0,443.0 L1426.0,436.0 L1426.0,442.0 L1400.0,450.0 L1381.0,455.0Z" fill="rgb(158,128,0)"/><path d="M1390.0,432.0 L1410.0,428.0 L1428.0,428.0 L1428.0,437.0 L1405.0,441.0 L1390.0,445.0Z" fill="rgb(133,128,0)"/></g><path d="M470.0,215.0 L1545.0,215.0 L1545.0,436.0 L1382.9,435.4 L1376.1,440.4 L1362.7,443.8 L1345.9,448.9 L1329.0,447.2 L1320.6,440.4 L1312.2,442.1 L1303.8,445.5 L1295.4,448.9 L1285.3,453.9 L1285.3,464.0 L1278.6,475.8 L1261.8,474.1 L1265.1,470.7 L1275.2,464.0 L1271.9,457.3 L1261.8,458.9 L1253.4,457.3 L1245.0,450.5 L1241.8,450.0 L1238.2,423.6 L1221.4,432.0 L1211.3,437.1 L1197.9,442.1 L1196.2,464.0 L1204.6,465.7 L1211.3,458.9 L1221.4,457.3 L1229.8,450.5 L1239.9,453.9 L1241.8,450.0 L1241.8,420.0 L1200.0,428.0 L1180.0,426.0 L1177.7,428.7 L1167.6,433.7 L1160.9,447.2 L1154.2,447.2 L1150.8,437.1 L1145.8,435.4 L1142.4,428.7 L1139.0,424.0 L1139.0,411.9 L1115.5,411.9 L1115.5,423.6 L1097.0,428.7 L1085.2,415.2 L1076.8,423.6 L1062.9,430.5 L1052.8,432.5 L1040.7,430.5 L1022.6,434.5 L1014.5,432.5 L1002.4,438.5 L988.2,436.5 L978.1,434.5 L968.1,426.4 L962.0,430.5 L951.9,444.6 L941.8,454.7 L933.7,448.6 L921.6,438.5 L915.6,428.4 L907.5,438.5 L891.4,446.6 L881.3,448.6 L869.2,444.6 L853.0,450.6 L842.9,460.7 L824.8,468.8 L820.7,458.7 L800.5,454.7 L790.5,456.7 L788.2,456.0 L789.0,340.0 L746.0,340.0 L746.0,215.0Z" fill="#b3b3b3"/><path d="M734.0,448.0 L752.0,447.0 L764.0,452.0 L770.0,465.0 L768.0,485.0 L764.0,500.0 L755.0,510.0 L744.0,506.0 L738.0,492.0 L736.0,470.0Z" fill="#b3b3b3"/><path d="M770.0,448.0 L786.0,448.0 L788.0,466.0 L778.0,470.0 L771.0,460.0Z" fill="#b3b3b3"/><path d="M746.0,393.8 L790.0,393.8 L790.0,446.5 L746.0,446.5Z" fill="#b3b3b3"/><path d="M1261.0,481.0 L1272.0,481.0 L1270.0,489.0 L1264.0,498.0 L1258.0,506.0 L1251.0,515.0 L1243.0,524.0 L1238.0,529.0 L1235.0,526.0 L1241.0,517.0 L1249.0,507.0 L1255.0,497.0 L1259.0,489.0Z" fill="#b3b3b3"/><path d="M652.0,594.0 L660.0,592.0 L667.0,600.0 L665.0,612.0 L657.0,618.0 L652.0,610.0Z" fill="#b3b3b3"/><path d="M730.0,553.0 L745.0,553.0 L754.0,558.0 L752.0,570.0 L744.0,578.0 L736.0,576.0 L731.0,566.0Z" fill="#b3b3b3"/><path d="M775.0,508.0 L781.0,507.0 L782.0,512.0 L776.0,513.0Z" fill="#b3b3b3"/><path d="M653.0,632.0 L661.0,630.0 L667.0,638.0 L664.0,648.0 L655.0,647.0Z" fill="#b3b3b3"/><path d="M746.0,418.0 L752.0,416.0 L760.0,419.0 L768.0,424.0 L774.0,431.0 L772.0,440.0 L790.0,456.0 L790.0,446.5 L746.0,446.5Z" fill="#1c74ce"/><path d="M772.0,420.0 L782.0,418.0 L786.0,426.0 L778.0,430.0Z" fill="#1c74ce"/><path d="M804.0,403.0 L811.0,401.0 L817.0,405.0 L813.0,410.0 L806.0,409.0Z" fill="#1c74ce"/><path d="M798.0,415.0 L803.0,414.0 L805.0,419.0 L801.0,422.0 L798.0,420.0Z" fill="#1c74ce"/><path d="M777.0,424.0 L782.0,423.0 L784.0,428.0 L779.0,430.0Z" fill="#1c74ce"/><path d="M827.0,437.0 L830.0,437.0 L830.0,440.0 L827.0,440.0Z" fill="#1c74ce"/><path d="M760.0,398.0 L770.0,396.0 L774.0,401.0 L766.0,405.0 L759.0,404.0Z" fill="#1c74ce"/><path d="M848.0,420.0 L852.0,419.0 L853.0,423.0 L849.0,424.0Z" fill="#1c74ce"/><path d="M745.8,230.0 L745.8,257.9 L757.5,269.5 L769.1,275.4 L783.7,284.1 L798.3,292.9 L812.9,301.6 L821.6,310.4 L827.4,319.1 L836.2,327.8 L856.6,330.8 L871.2,336.6 L879.9,351.2 L894.5,359.9 L903.2,365.7 L909.0,357.0 L920.7,342.4 L929.4,342.4 L944.0,336.6 L958.6,339.5 L970.6,335.2 L981.3,339.4 L991.9,343.7 L1002.6,341.6 L1013.2,345.8 L1017.5,362.9 L1023.9,365.0 L1030.3,356.5 L1045.2,356.5 L1053.7,362.9 L1062.2,352.2 L1072.9,343.7 L1083.5,335.2 L1100.0,320.0 L1130.0,314.0 L1145.3,322.0 L1145.3,330.9 L1147.4,350.1 L1151.6,360.7 L1162.3,365.0 L1170.8,360.7 L1177.2,352.2 L1181.5,339.4 L1190.0,330.0 L1180.0,300.0 L1100.0,240.0 L1060.0,225.0 L745.8,220.0Z" fill="#4d4d4d"/><path d="M666.3,230.0 L666.3,237.9 L674.0,248.2 L694.6,253.4 L710.1,258.5 L725.6,261.1 L746.0,263.7 L746.0,230.0Z" fill="#4d4d4d"/><path d="M1320.0,330.0 L1330.0,366.5 L1336.4,364.4 L1342.8,366.5 L1351.3,375.0 L1362.0,385.7 L1372.6,389.9 L1383.2,385.7 L1391.8,379.3 L1398.2,387.8 L1402.4,396.3 L1408.8,396.3 L1410.9,379.3 L1425.8,375.0 L1440.8,379.3 L1442.9,379.3 L1453.5,370.8 L1457.8,362.2 L1468.4,358.0 L1481.0,355.0 L1493.0,351.0 L1506.0,349.0 L1513.5,341.0 L1519.0,336.0 L1535.0,330.0 L1535.0,260.0 L1320.0,260.0Z" fill="#4d4d4d"/></g><path d="M1087.8,343.7 L1092.0,335.2 L1100.5,322.4 L1109.1,318.1 L1117.6,318.1 L1130.4,313.9 L1141.0,316.0 L1145.3,322.4 L1141.0,330.9 L1134.6,335.2 L1128.2,339.4 L1121.8,350.1 L1117.6,365.0 L1115.5,375.6 L1117.6,386.3 L1121.8,399.1 L1119.7,411.8 L1113.3,422.5 L1104.8,426.7 L1096.3,428.9 L1092.0,416.1 L1088.8,403.3 L1087.8,386.3 L1089.9,373.5 L1092.0,360.7 L1087.8,352.2Z" fill="#fff" stroke="#000" stroke-width="3.6" stroke-linejoin="round"/><path d="M1087.8,343.7 L1096.3,335.2 L1106.9,330.9 L1100.5,339.4 L1092.0,350.1 L1087.8,352.2" fill="none" stroke="#000" stroke-width="3.6" stroke-linejoin="round"/><path d="M327.0,308.6 L338.6,308.0 L349.9,314.7 L354.3,323.7 L372.3,323.7 L394.7,321.5 L417.2,317.0 L430.6,314.7 L474.9,314.7 M472.6,235.5 L472.8,310.0 L477.0,314.7 L482.2,319.2 L483.9,325.0 L479.4,332.1 L472.6,345.6 L469.3,359.0 L473.8,363.5 L473.5,420.0 M321.5,420.0 L598.6,420.0 M410.0,420.0 L410.0,499.3 L522.5,601.0 M521.7,665.0 L526.9,659.5 L520.7,654.7 L520.7,648.5 L525.4,635.9 L534.0,623.4 L526.9,612.4 L522.2,603.0 L520.7,577.8 L525.4,574.7 L533.2,574.7 L535.5,570.0 M535.5,420.0 L535.5,570.0 M492.8,235.5 L494.4,261.9 L503.0,272.0 L513.4,284.8 L521.0,290.0 L528.7,300.0 L528.7,315.3 L524.8,326.7 L540.1,334.3 L551.5,345.8 L559.1,353.4 L582.0,351.5 L597.3,345.8 L598.6,341.0 M598.6,341.0 L598.6,446.5 M598.6,341.0 L746.1,341.0 M598.6,446.5 L788.2,446.5 M746.1,235.5 L746.1,446.5 M640.7,446.5 L640.7,701.6 M535.5,552.0 L945.2,552.0 M788.2,446.5 L788.2,552.0 M788.2,472.9 L929.7,472.9 M768.2,552.0 L767.3,565.5 L767.3,684.0 M691.9,684.0 L767.3,684.0 M767.3,565.5 L831.4,565.5 L831.4,615.9 M831.4,615.9 L836.9,619.9 L844.8,619.1 L849.5,625.4 L862.0,628.5 L871.5,628.5 L876.2,634.8 L885.6,633.2 L891.9,637.9 L899.7,633.2 L907.6,638.7 L917.0,634.8 L924.8,631.6 L932.7,631.6 L943.7,639.5 L948.4,641.1 L956.2,641.1 M944.8,495.0 L944.8,564.4 L948.4,565.5 L948.4,590.8 L947.6,639.5 M956.2,641.1 L956.2,657.0 L956.2,681.2 L960.2,691.3 L966.2,701.4 L966.7,706.7 L965.9,716.8 L963.4,725.2 L964.2,733.6 L957.5,743.7 M956.2,656.3 L1017.7,656.3 M948.4,565.2 L1038.9,565.2 L1040.9,570.0 L1034.7,577.3 L1048.8,578.1 M1059.0,553.7 L1060.6,560.0 L1052.0,563.2 L1048.8,574.1 L1044.1,586.7 L1042.9,590.4 L1038.9,600.5 L1030.8,612.6 L1022.7,624.7 L1017.7,636.9 L1016.7,644.9 L1017.7,656.0 L1019.7,667.1 L1021.7,677.2 L1014.7,685.3 L1009.6,697.4 L1008.6,708.5 M1008.6,709.5 L1046.9,709.5 L1045.8,718.5 L1048.3,726.9 L1051.7,732.0 M1081.8,604.8 L1080.0,640.0 L1077.2,700.0 L1075.5,725.5 M1034.7,604.8 L1161.8,604.8 M1133.6,604.8 L1136.7,620.0 L1143.0,676.0 L1145.0,690.0 L1146.3,710.3 L1149.7,716.9 M1092.5,710.3 L1146.3,710.3 M1092.5,710.3 L1095.9,723.6 M1149.7,716.9 L1208.0,721.4 L1209.1,727.0 L1212.5,715.8 L1222.2,714.5 M1180.6,608.7 L1186.9,615.0 L1191.6,620.0 L1200.0,631.8 L1210.1,642.9 L1218.2,653.0 L1224.2,669.1 L1230.3,679.2 L1235.3,681.2 M1180.6,607.0 L1186.9,601.0 L1202.6,597.7 L1230.8,599.3 L1235.6,607.1 L1250.0,608.7 L1258.5,609.6 L1283.7,633.8 M1161.8,604.8 L1186.9,603.0 M1216.7,563.5 L1215.2,571.0 L1205.7,574.1 L1196.3,578.9 L1183.8,586.7 L1171.2,589.8 L1164.9,596.1 L1161.8,604.8 M1048.8,564.7 L1084.9,564.7 L1083.3,560.8 L1150.0,561.5 L1218.3,562.4 L1250.0,563.5 L1337.1,563.0 M1179.1,561.6 L1191.6,553.7 L1197.9,545.9 L1210.4,538.1 L1202.6,531.8 L1197.9,520.8 L1199.5,514.5 M1297.3,491.6 L1283.9,493.8 L1277.2,500.5 L1270.4,507.3 L1261.5,511.7 L1257.0,518.5 L1252.5,527.5 L1245.8,536.4 L1234.5,540.9 L1225.6,543.1 L1216.6,545.4 L1209.9,538.7 M1263.7,480.3 L1263.7,494.0 L1270.4,487.0 L1275.0,484.8 L1286.0,483.7 L1293.0,484.8 L1297.3,491.6 L1310.8,500.5 L1315.3,507.3 L1310.8,514.0 L1315.3,520.7 L1322.0,525.2 L1328.8,532.0 L1335.5,541.0 M1312.0,528.0 L1322.0,534.0 L1330.0,540.0 M1314.0,536.0 L1324.0,542.0 L1332.0,548.0 M1318.0,545.0 L1328.0,550.0 M1327.0,500.0 L1333.0,510.0 L1336.0,520.0 M1338.0,495.0 L1340.0,505.0 L1344.0,512.0 M1334.0,528.0 L1340.0,533.0 M1322.0,570.8 L1330.4,572.5 L1333.8,577.6 L1328.7,581.0 L1335.5,584.3 L1340.5,587.6 L1335.5,591.0 L1325.4,592.7 L1318.7,594.4 L1323.7,597.7 L1330.4,602.8 L1322.0,604.5 L1315.3,607.8 L1306.9,612.9 M1340.0,566.0 L1343.0,577.0 L1346.0,588.0 L1347.0,598.0 M1241.8,456.0 L1239.9,456.0 L1238.2,460.0 L1234.9,472.4 L1231.5,480.8 L1226.1,487.8 L1218.3,491.0 L1210.4,498.8 L1205.7,505.1 L1199.5,514.5 L1197.9,513.0 L1191.6,505.1 L1186.9,508.2 L1174.4,506.7 L1164.9,503.5 L1158.7,495.7 L1150.8,495.7 L1149.3,503.5 L1138.3,508.2 L1132.0,517.7 L1125.7,525.5 L1117.9,520.8 L1111.6,527.1 L1102.2,530.2 L1092.8,527.1 L1084.9,527.1 L1083.3,531.8 L1081.8,538.1 L1073.9,542.8 L1070.8,549.0 L1061.4,547.5 L1059.0,553.7 M1094.2,428.0 L1094.2,490.9 L1092.8,495.7 L1094.3,505.1 L1088.1,514.5 L1083.3,523.9 L1081.8,531.8 M1151.6,425.3 L1151.6,495.7 M1096.3,426.5 L1151.6,425.5 L1180.5,425.8 M1241.8,420.4 L1241.8,480.3 M1241.8,480.3 L1343.0,480.3 M1257.6,412.4 L1257.6,419.6 L1352.9,419.6 L1356.7,428.6 L1364.4,436.2 L1358.6,441.9 L1354.8,453.4 L1364.4,468.6 L1356.7,476.2 L1347.2,478.1 L1343.0,480.3 M1364.4,436.2 L1381.5,445.7 M1343.0,480.3 L1343.0,512.0 L1353.9,512.9 M1347.2,478.1 L1352.9,491.5 L1360.5,499.1 M1323.7,491.8 L1325.4,503.6 L1322.0,513.7 L1318.7,523.8 L1320.3,537.2 L1317.0,545.6 L1325.4,550.7 L1333.8,555.7 L1338.0,552.4 M1330.4,488.5 L1330.4,503.6 L1335.5,512.0 L1342.2,517.1 L1345.5,525.5 L1340.5,537.2 L1337.1,547.3 M1391.8,341.0 L1391.8,396.3 L1389.6,419.7 L1387.5,445.0 M1432.2,339.9 L1428.0,349.5 L1421.6,360.1 L1415.2,377.1 L1409.9,398.4 M1438.6,332.4 L1441.8,366.5 L1445.0,387.8 L1448.2,394.2 M1391.8,398.5 L1445.0,398.4 M1389.6,419.0 L1428.0,419.0 L1428.0,434.7 M1434.4,419.7 L1436.5,430.4 M746.1,316.2 L904.0,316.2 M890.7,235.5 L892.3,244.7 L891.2,255.9 L896.8,270.5 L897.9,287.3 L898.5,298.5 L903.5,309.7 L904.1,316.2 L901.8,322.0 L898.8,325.0 L906.1,330.8 L906.1,380.6 M746.1,393.8 L863.1,393.8 L873.2,400.2 L885.3,397.2 L901.5,402.2 M906.1,380.6 L903.5,382.0 L905.5,392.1 L901.5,402.2 M901.5,402.2 L909.5,412.3 L911.5,424.4 L917.6,440.5 L919.6,456.7 L925.7,466.8 L929.7,472.9 L933.7,474.9 L939.8,478.9 L933.7,484.9 L939.8,493.0 L944.8,495.0 M906.1,380.8 L1016.5,380.8 M919.6,456.9 L1010.4,456.9 L1012.4,460.7 M993.5,297.0 L993.0,311.8 L983.4,318.1 L981.3,324.5 L984.5,335.2 L983.4,345.8 L996.2,354.3 L1009.0,365.0 L1017.5,377.8 M1017.5,377.8 L1020.5,388.1 L1016.5,394.1 L1020.5,402.2 L1030.6,406.2 L1036.7,416.3 L1036.7,424.4 L1032.6,430.5 L1020.5,434.5 L1018.5,440.5 L1020.5,448.6 L1012.4,456.7 L1010.4,464.8 L1010.4,474.9 L1018.5,487.0 L1026.6,495.0 L1028.6,501.1 L1036.3,502.0 L1039.4,505.1 L1033.1,516.1 L1039.4,523.9 L1048.8,530.2 L1053.5,536.5 L1053.5,544.3 L1056.7,550.6 L1059.0,553.7 M1030.6,406.3 L1088.8,406.5 M1037.0,299.5 L1039.2,306.3 L1059.4,310.8 L1076.2,314.2 L1084.1,320.0 L1085.6,330.9 L1089.9,339.4" fill="none" stroke="#000" stroke-width="3.6" stroke-linejoin="round" stroke-linecap="round"/><path d="M310.8,251.4 L330.0,254.5 L343.7,257.0 L347.0,247.0 L350.0,240.0 L352.1,235.5 L932.1,235.5 L932.1,225.6 L941.7,225.6 L943.9,240.2 L947.3,242.4 L961.9,245.8 L963.0,248.6 L969.7,245.2 L977.6,244.1 L986.5,246.9 L992.1,253.6 L996.6,252.0 L1003.3,254.8 L1011.2,260.4 L1023.5,254.8 L1025.8,258.1 L1040.4,258.7 L1053.8,261.5 L1042.6,266.0 L1031.4,269.3 L1020.2,276.1 L1012.3,283.9 L1003.3,289.5 L994.4,296.2 L998.9,296.2 L1012.3,292.9 L1023.5,289.5 L1024.7,298.5 L1033.6,298.5 L1039.2,298.5 L1048.2,292.9 L1057.2,290.6 L1065.0,285.0 L1074.0,278.3 L1081.8,275.5 L1090.8,277.2 L1079.6,285.0 L1075.1,294.0 L1081.8,290.6 L1093.0,295.1 L1100.0,300.5 L1109.1,302.2 L1126.1,296.8 L1147.4,294.7 L1149.5,301.1 L1162.3,302.2 L1166.6,309.6 L1173.0,313.9 L1160.0,317.0 L1148.0,318.5 L1145.3,320.3 L1162.3,322.4 L1176.9,330.8 L1184.1,339.7 L1182.3,348.7 L1180.5,355.9 L1175.1,364.8 L1169.7,372.0 L1173.3,377.4 L1180.5,370.2 L1185.9,366.6 L1193.0,366.6 L1198.4,373.8 L1200.2,388.2 L1201.1,395.3 L1198.4,400.7 L1194.8,402.5 L1191.3,407.9 L1187.7,413.3 L1185.9,420.4 L1180.5,425.8 L1191.3,433.0 L1200.2,434.8 L1212.8,433.0 L1225.3,427.6 L1241.5,420.4 L1250.4,415.1 L1257.6,412.4 L1273.8,401.6 L1275.6,395.3 L1272.0,390.0 L1275.6,385.5 L1286.3,383.7 L1302.5,386.4 L1320.4,382.8 L1331.2,375.6 L1329.4,364.8 L1338.3,357.7 L1351.3,345.2 L1359.8,340.5 L1432.2,339.9 L1434.4,333.5 L1438.6,332.4 L1446.7,331.5 L1451.2,323.9 L1458.0,316.0 L1456.8,308.2 L1462.4,297.0 L1470.6,289.8 L1479.1,276.0 L1483.4,277.0 L1485.5,281.3 L1500.4,278.1 L1511.0,285.6 L1512.1,319.6 L1517.4,326.0 L1518.5,334.5 L1524.9,340.9 L1526.0,345.2 L1517.4,351.6 L1504.7,358.0 L1491.9,360.1 L1483.4,358.0 L1479.1,364.4 L1466.3,372.9 L1457.8,379.3 L1451.4,387.8 L1448.2,394.2 L1445.0,400.6 L1440.8,409.1 L1445.0,415.5 L1449.3,421.9 L1457.8,419.7 L1462.0,417.6 L1465.5,422.0 L1464.2,428.3 L1459.9,438.9 L1449.3,434.7 L1436.5,434.7 L1428.0,436.8 L1410.0,440.0 L1387.5,445.3 L1383.4,445.7 L1381.5,449.6 L1377.7,457.2 L1380.5,462.9 L1380.8,470.0 L1379.2,473.4 L1374.1,483.4 L1364.0,493.5 L1360.7,500.3 L1353.9,493.5 L1350.0,488.0 L1352.0,497.0 L1353.9,503.6 L1357.3,510.3 L1357.3,517.1 L1353.9,525.5 L1350.6,530.5 L1343.9,538.9 L1338.8,547.3 L1338.0,552.4 L1340.5,560.8 L1342.2,570.8 L1345.5,579.2 L1348.1,586.0 L1348.9,597.7 L1343.9,601.1 L1335.5,604.5 L1327.1,609.5 L1313.6,614.5 L1306.9,618.7 L1298.9,624.7 L1294.8,633.2 L1284.7,633.2 L1276.7,638.9 L1270.6,644.9 L1268.6,653.0 L1260.5,660.1 L1252.5,665.1 L1240.4,673.2 L1232.3,683.3 L1228.2,693.4 L1224.2,705.5 L1222.2,714.0 L1221.5,723.6 L1226.0,746.1 L1232.7,764.0 L1239.4,786.4 L1248.4,811.1 L1251.7,824.6 L1250.6,847.0 L1246.1,860.4 L1237.2,863.8 L1230.4,862.7 L1228.2,856.0 L1221.5,847.0 L1214.7,838.0 L1210.3,824.6 L1208.0,817.8 L1201.3,811.1 L1196.8,802.1 L1197.9,793.2 L1194.6,788.7 L1195.7,775.2 L1194.6,761.8 L1187.8,755.0 L1178.9,743.8 L1169.9,734.9 L1163.2,733.7 L1154.2,739.3 L1140.7,743.8 L1138.5,741.6 L1131.8,730.4 L1122.8,724.8 L1109.3,724.8 L1095.9,723.6 L1091.4,728.1 L1085.8,725.9 L1083.5,716.9 L1082.4,728.1 L1075.2,725.9 L1065.1,724.4 L1056.7,726.1 L1051.7,727.8 L1045.0,729.4 L1038.2,726.1 L1034.0,729.4 L1038.2,732.0 L1046.6,733.6 L1056.7,732.0 L1060.0,736.2 L1055.0,742.1 L1050.0,748.8 L1056.7,752.1 L1061.8,758.9 L1055.0,762.2 L1048.3,757.2 L1041.6,750.5 L1036.5,758.9 L1029.8,755.5 L1023.1,758.9 L1018.0,752.1 L1009.6,746.3 L1004.6,742.9 L997.8,742.1 L996.2,747.1 L987.7,747.9 L977.7,742.9 L970.9,741.2 L959.1,743.7 L957.5,743.7 L944.0,747.1 L942.3,740.4 L939.0,743.7 L937.3,750.5 L932.2,758.9 L920.5,767.3 L908.7,770.6 L900.3,774.0 L890.2,784.1 L883.5,792.5 L878.4,802.6 L880.1,807.7 L883.5,812.7 L884.3,821.1 L887.0,832.0 L890.2,841.3 L880.7,842.4 L868.9,840.1 L852.4,830.7 L845.4,821.2 L841.8,809.5 L838.3,800.0 L826.5,783.6 L819.5,769.5 L814.8,757.7 L805.3,748.3 L798.3,742.4 L783.0,740.0 L774.7,743.6 L772.4,748.3 L767.7,757.7 L760.6,762.4 L744.1,753.0 L734.7,743.6 L732.4,731.8 L725.3,720.0 L713.5,708.2 L699.4,694.1 L693.8,689.8 L658.6,689.8 L658.6,701.6 L598.2,701.6 L519.8,671.0 L521.7,665.0 L470.7,670.0 L468.9,661.0 L464.2,651.6 L451.6,637.5 L443.8,635.9 L439.0,630.4 L426.5,626.5 L420.2,620.2 L400.6,618.7 L397.5,614.0 L396.7,601.4 L392.0,595.1 L382.6,584.1 L373.1,571.6 L369.6,563.3 L370.6,555.3 L366.6,551.2 L360.5,543.2 L360.5,535.1 L358.5,527.0 L352.0,527.0 L348.4,525.0 L346.4,519.0 L340.4,506.9 L332.3,494.7 L330.3,478.6 L324.2,470.5 L317.2,462.5 L319.2,454.4 L322.2,444.3 L324.2,430.2 L321.5,420.0 L316.8,410.0 L313.9,398.0 L318.0,377.0 L321.3,354.5 L324.7,332.0 L325.5,315.0 L327.0,308.6 L324.7,300.7 L327.0,289.5 L322.4,282.8 L313.5,264.8Z M1380.0,449.0 L1395.0,445.0 L1410.0,440.5 L1425.0,435.5 L1427.0,438.5 L1412.0,445.0 L1396.0,450.0 L1382.0,453.5Z" fill="none" stroke="#000" stroke-width="3.7" stroke-linejoin="round"/><path d="M349.8,235.8 L358.8,240.3 L359.9,245.9 L365.5,260.5 L362.2,272.8 L359.9,280.7 L349.8,288.5 L345.4,284.1 L344.2,276.2 L352.1,268.4 L349.8,259.4 L343.1,248.2 L347.6,242.6Z" fill="#000" stroke="#000" stroke-width="3" stroke-linejoin="round"/><path d="M358.0,521.0 L363.0,519.0 L366.0,524.0 L364.0,530.0 L369.0,536.0 L368.0,540.0 L364.0,538.0 L360.0,533.0 L358.0,527.0Z" fill="#000" stroke="#000" stroke-width="2.5" stroke-linejoin="round"/><path d="M1192.0,788.0 L1198.0,785.0 L1203.0,790.0 L1202.0,797.0 L1196.0,798.0 L1193.0,794.0Z" fill="#000" stroke="#000" stroke-width="2" stroke-linejoin="round"/><path d="M1204.0,815.0 L1209.0,814.0 L1211.0,820.0 L1207.0,823.0 L1204.0,820.0Z" fill="#000" stroke="#000" stroke-width="2" stroke-linejoin="round"/><path d="M1190.0,869.0 L1193.0,868.0 L1194.0,871.0 L1191.0,872.0Z" fill="#1c74ce"/><path d="M1207.0,873.0 L1212.0,871.0 L1213.0,874.0 L1208.0,876.0Z" fill="#1c74ce"/><path d="M1217.0,870.0 L1228.0,864.0 L1234.0,862.0 L1232.0,866.0 L1222.0,872.0 L1216.0,874.0Z" fill="#1c74ce"/><path d="M1058.5,265.0 L1062.0,260.0 L1070.0,257.0 L1075.0,256.5 L1073.0,260.0 L1066.0,264.0 L1060.0,267.0Z" fill="#4d4d4d"/><path d="M401.0,631.0 L410.0,628.5 L420.0,628.5 L422.0,632.0 L412.0,634.0 L403.0,634.0Z" fill="#1c74ce"/><path d="M418.5,650.0 L421.0,649.0 L422.0,652.0 L419.0,653.0Z" fill="#1c74ce"/><path d="M439.5,644.0 L443.0,643.5 L445.5,647.0 L442.0,648.5Z" fill="#1c74ce"/><path d="M439.5,655.0 L442.0,655.0 L445.5,661.0 L443.0,663.0 L440.0,660.0Z" fill="#1c74ce"/>
<text x="1572" y="403" class="lh">Relative pop. size</text>
<rect x="1571" y="417.00" width="25" height="25.80" fill="#4d4d4d"/><text x="1607.5" y="437.20" class="lt" textLength="129.1" lengthAdjust="spacingAndGlyphs">excl.-severe</text><rect x="1571" y="442.50" width="25" height="25.80" fill="#b3b3b3"/><text x="1607.5" y="462.70" class="lt" textLength="161.9" lengthAdjust="spacingAndGlyphs">excl.-moderate</text><rect x="1571" y="468.00" width="25" height="25.80" fill="#1c74ce"/><text x="1607.5" y="488.20" class="lt" textLength="48.1" lengthAdjust="spacingAndGlyphs">0-10</text><rect x="1571" y="493.50" width="25" height="25.80" fill="#468f9f"/><text x="1607.5" y="513.70" class="lt" textLength="62.7" lengthAdjust="spacingAndGlyphs">10-20</text><rect x="1571" y="519.00" width="25" height="25.80" fill="#7caf73"/><text x="1607.5" y="539.20" class="lt" textLength="62.7" lengthAdjust="spacingAndGlyphs">20-30</text><rect x="1571" y="544.50" width="25" height="25.80" fill="#aecb47"/><text x="1607.5" y="564.70" class="lt" textLength="62.7" lengthAdjust="spacingAndGlyphs">30-40</text><rect x="1571" y="570.00" width="25" height="25.80" fill="#e6ee1a"/><text x="1607.5" y="590.20" class="lt" textLength="62.7" lengthAdjust="spacingAndGlyphs">40-50</text><rect x="1571" y="595.50" width="25" height="25.80" fill="#fae100"/><text x="1607.5" y="615.70" class="lt" textLength="62.7" lengthAdjust="spacingAndGlyphs">50-60</text><rect x="1571" y="621.00" width="25" height="25.80" fill="#f0a900"/><text x="1607.5" y="641.20" class="lt" textLength="62.7" lengthAdjust="spacingAndGlyphs">60-70</text><rect x="1571" y="646.50" width="25" height="25.80" fill="#e86e00"/><text x="1607.5" y="666.70" class="lt" textLength="62.7" lengthAdjust="spacingAndGlyphs">70-80</text><rect x="1571" y="672.00" width="25" height="25.80" fill="#df3b00"/><text x="1607.5" y="692.20" class="lt" textLength="62.7" lengthAdjust="spacingAndGlyphs">80-90</text><rect x="1571" y="697.50" width="25" height="25.80" fill="#d10000"/><text x="1607.5" y="717.70" class="lt" textLength="76.4" lengthAdjust="spacingAndGlyphs">90-100</text>
</svg>
</body></html>
